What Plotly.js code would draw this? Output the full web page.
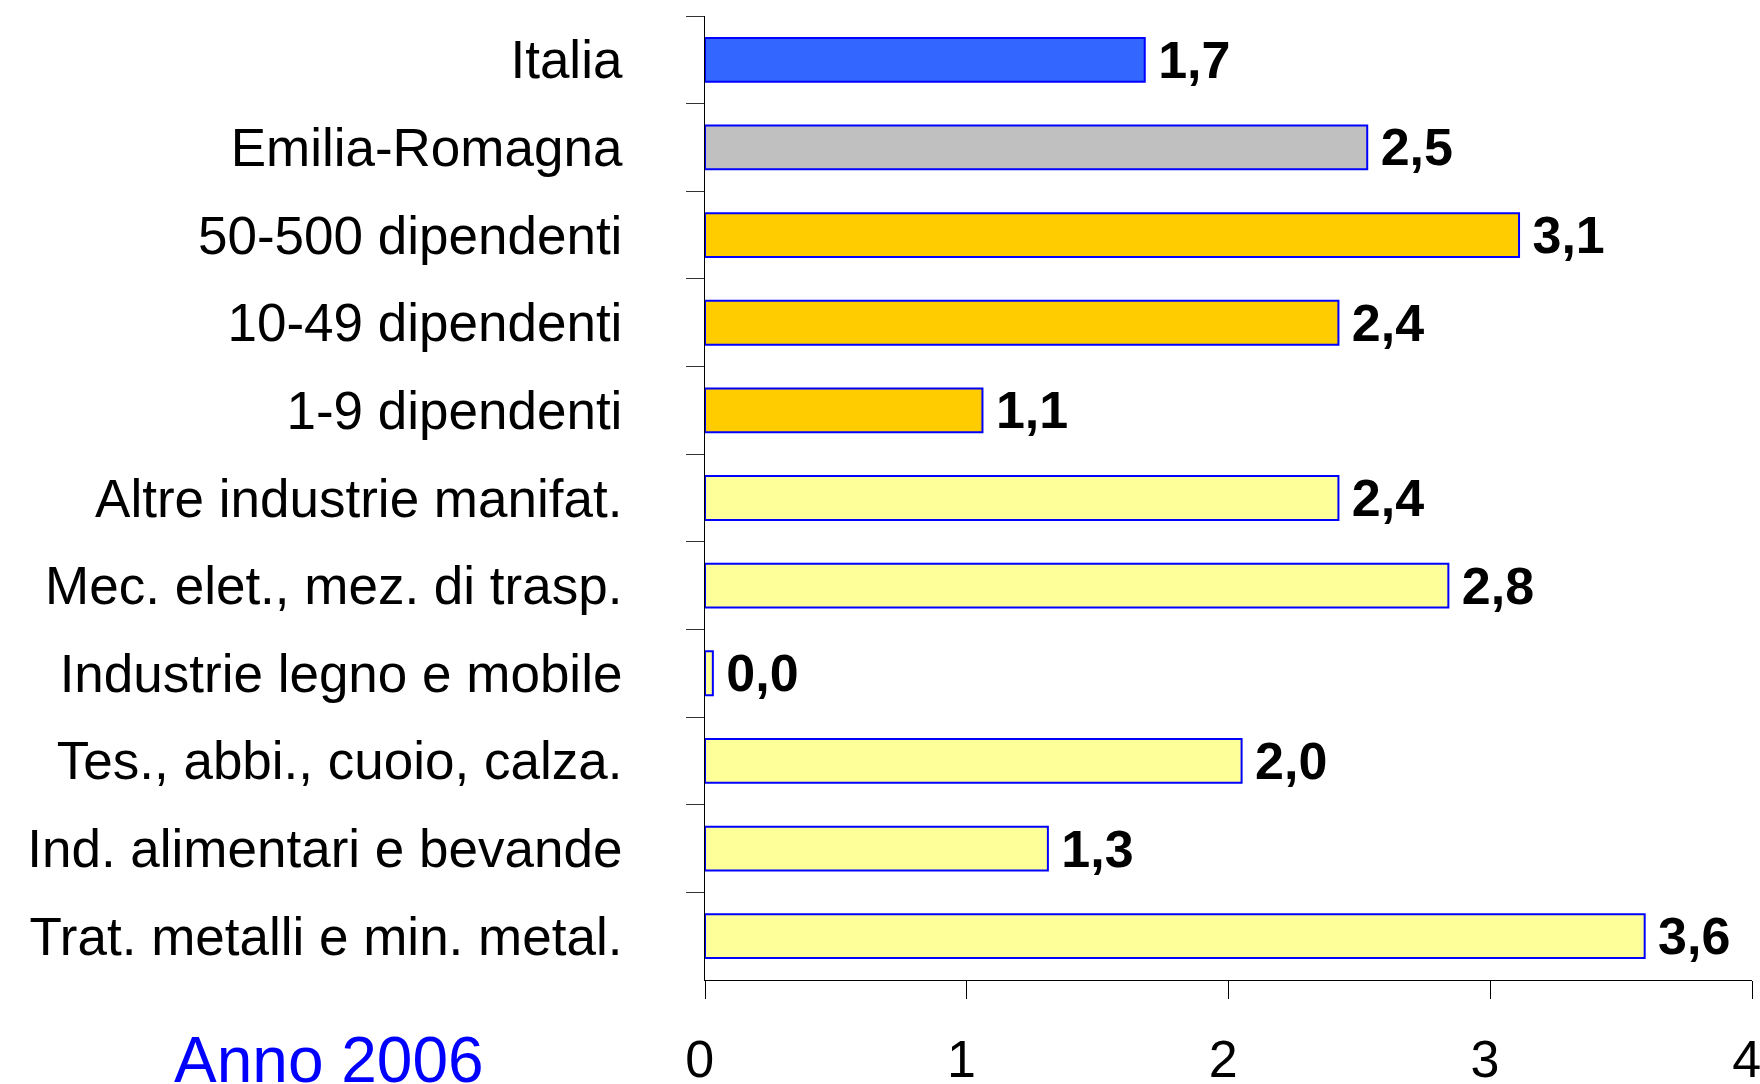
<!DOCTYPE html>
<html>
<head>
<meta charset="utf-8">
<script src="https://cdn.plot.ly/plotly-3.0.1.min.js"></script>
<style>html,body{margin:0;padding:0;background:#fff;}#chart{width:1760px;height:1084px;}</style>
</head>
<body>
<div id="chart"></div>
<script>
const categories = [
  "Italia",
  "Emilia-Romagna",
  "50-500 dipendenti",
  "10-49 dipendenti",
  "1-9 dipendenti",
  "Altre industrie manifat.",
  "Mec. elet., mez. di trasp.",
  "Industrie legno e mobile",
  "Tes., abbi., cuoio, calza.",
  "Ind. alimentari e bevande",
  "Trat. metalli e min. metal."
];
const values = [1.68, 2.53, 3.11, 2.42, 1.06, 2.42, 2.84, 0.03, 2.05, 1.31, 3.59];
const valueLabels = ["1,7", "2,5", "3,1", "2,4", "1,1", "2,4", "2,8", "0,0", "2,0", "1,3", "3,6"];
const barColors = ["#3366FF", "#C0C0C0", "#FFCC00", "#FFCC00", "#FFCC00",
  "#FFFF99", "#FFFF99", "#FFFF99", "#FFFF99", "#FFFF99", "#FFFF99"];
const xTicks = [0, 1, 2, 3, 4];
const yearLabel = "Anno 2006";

const FONT = "Liberation Sans, Arial, Helvetica, sans-serif";

const trace = {
  type: "bar",
  orientation: "h",
  y: categories,
  x: values,
  text: valueLabels.map(t => "\u2009" + t),
  textposition: "outside",
  cliponaxis: false,
  constraintext: "none",
  textfont: {family: FONT, size: 52, color: "#000", weight: "bold"},
  width: 0.5,
  marker: {color: barColors, line: {color: "#0000FF", width: 2}},
  hoverinfo: "none"
};

const layout = {
  width: 1760,
  height: 1084,
  margin: {l: 705, r: 8, t: 16, b: 104},
  paper_bgcolor: "#fff",
  plot_bgcolor: "#fff",
  showlegend: false,
  font: {family: FONT, color: "#000"},
  xaxis: {
    range: [0, 4],
    tickvals: xTicks,
    ticktext: xTicks.map(v => String(v) + "\u2009"),
    showgrid: false,
    zeroline: false,
    showline: true,
    linecolor: "#000",
    linewidth: 1,
    ticks: "outside",
    ticklen: 18,
    tickcolor: "#000",
    tickwidth: 1,
    ticklabelstandoff: 16,
    ticklabeloverflow: "allow",
    tickfont: {family: FONT, size: 52, color: "#000"}
  },
  yaxis: {
    type: "category",
    autorange: "reversed",
    showgrid: false,
    zeroline: false,
    showline: true,
    linecolor: "#000",
    linewidth: 1,
    ticks: "outside",
    tickson: "boundaries",
    ticklen: 18,
    tickcolor: "#333",
    tickwidth: 1,
    ticklabelstandoff: 71,
    tickfont: {family: FONT, size: 53, color: "#000"}
  },
  annotations: [{
    text: yearLabel,
    xref: "paper", yref: "paper",
    x: -0.359, y: -0.083,
    xanchor: "center", yanchor: "middle",
    showarrow: false,
    font: {family: FONT, size: 64, color: "#0000FF"}
  }]
};

Plotly.newPlot("chart", [trace], layout, {displayModeBar: false, staticPlot: true});
</script>
</body>
</html>
